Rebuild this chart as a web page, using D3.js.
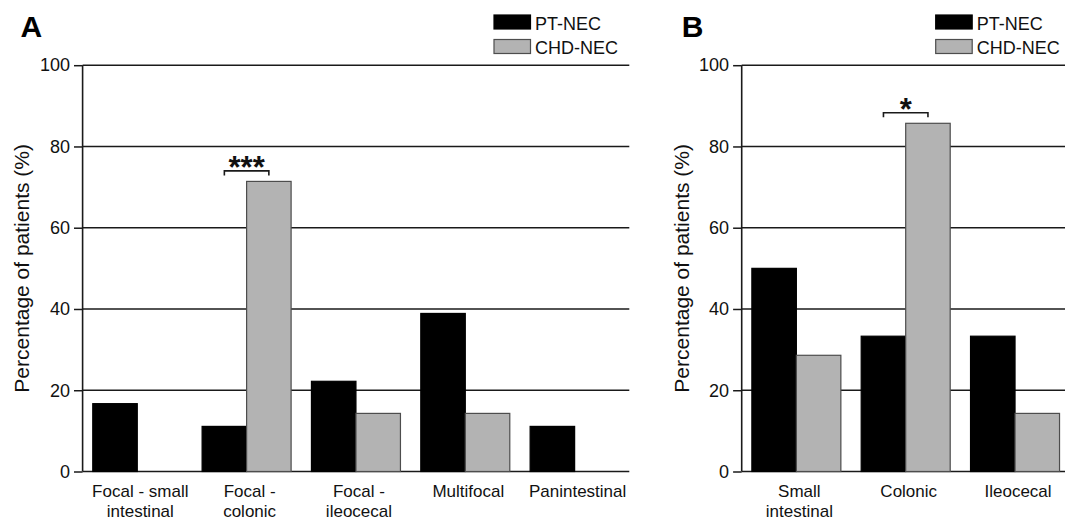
<!DOCTYPE html>
<html>
<head>
<meta charset="utf-8">
<script src="https://cdn.jsdelivr.net/npm/d3@7"></script>
<style>
  html, body { margin: 0; padding: 0; background: #fff; }
  svg { display: block; font-family: "Liberation Sans", Arial, sans-serif; }
</style>
</head>
<body>
<svg id="chart" width="1065" height="522"></svg>
<script>
// data
const series = ['PT-NEC', 'CHD-NEC'];
const yTicks = [0, 20, 40, 60, 80, 100];

const catsA = ['Focal - small\nintestinal', 'Focal -\ncolonic', 'Focal -\nileocecal', 'Multifocal', 'Panintestinal'];
const ptA   = [16.7, 11.1, 22.2, 38.9, 11.1];
const chdA  = [0, 71.4, 14.3, 14.3, 0];
const sigA  = { cat: 1, label: '***' };

const catsB = ['Small\nintestinal', 'Colonic', 'Ileocecal'];
const ptB   = [50, 33.3, 33.3];
const chdB  = [28.6, 85.7, 14.3];
const sigB  = { cat: 1, label: '*' };

const colors = { 'PT-NEC': '#000', 'CHD-NEC': '#b3b3b3' };
const strokes = { 'PT-NEC': '#000', 'CHD-NEC': '#4d4d4d' };

const svg = d3.select('#chart');
const y = d3.scaleLinear().domain([0, 100]).range([471.5, 65.2]);

function panel(cfg) {
  const g = svg.append('g');
  const n = cfg.cats.length;
  const x = d3.scaleBand().domain(d3.range(n)).range([cfg.x0, cfg.x1])
    .paddingInner(0.186).paddingOuter(0.093);
  const xs = d3.scaleBand().domain(series).range([0, x.bandwidth()]);

  // grid lines
  g.selectAll('.grid').data(yTicks).enter().append('line')
    .attr('x1', cfg.x0).attr('x2', cfg.x1)
    .attr('y1', d => y(d)).attr('y2', d => y(d))
    .attr('stroke', '#1a1a1a').attr('stroke-width', 1.5);

  // y axis
  const ax = g.append('g')
    .attr('transform', `translate(${cfg.x0},0)`)
    .call(d3.axisLeft(y).tickValues(yTicks).tickSize(8.6).tickPadding(4));
  ax.select('.domain').attr('stroke', '#1a1a1a').attr('stroke-width', 1.6)
    .attr('d', `M0,${y(0)}V${y(100)}`);
  ax.selectAll('.tick line').attr('stroke', '#1a1a1a').attr('stroke-width', 1.5);
  ax.selectAll('.tick text').attr('font-size', 18).attr('fill', '#111')
    .attr('font-family', '"Liberation Sans", Arial, sans-serif');

  // bars
  const rows = [];
  series.forEach((s, si) => cfg.vals[si].forEach((v, i) => rows.push({ s, i, v })));
  g.selectAll('.bar').data(rows.filter(d => d.v > 0)).enter().append('rect')
    .attr('x', d => x(d.i) + xs(d.s))
    .attr('width', xs.bandwidth())
    .attr('y', d => y(d.v))
    .attr('height', d => y(0) - y(d.v))
    .attr('fill', d => colors[d.s])
    .attr('stroke', d => strokes[d.s])
    .attr('stroke-width', 1.2);

  // category labels
  g.selectAll('.cat').data(cfg.cats).enter().append('text')
    .attr('text-anchor', 'middle')
    .attr('font-size', 17).attr('fill', '#111')
    .attr('transform', (d, i) => `translate(${x(i) + x.bandwidth() / 2 + 3},497)`)
    .selectAll('tspan').data(d => d.split('\n')).enter().append('tspan')
    .attr('x', 0).attr('y', (d, j) => j * 20).text(d => d);

  // y label
  g.append('text')
    .attr('transform', `translate(${cfg.labelX},${(y(0) + y(100)) / 2}) rotate(-90)`)
    .attr('text-anchor', 'middle').attr('font-size', 21).attr('fill', '#111')
    .text('Percentage of patients (%)');

  // panel letter
  g.append('text').attr('x', cfg.letterX).attr('y', 36.5)
    .attr('font-size', 30).attr('font-weight', 'bold').text(cfg.letter);

  // legend
  const lg = g.append('g').attr('transform', `translate(${cfg.legendX},15)`);
  series.forEach((s, i) => {
    lg.append('rect').attr('x', 0).attr('y', i * 24.5).attr('width', 36.5).attr('height', 14)
      .attr('fill', colors[s]).attr('stroke', strokes[s]).attr('stroke-width', 1.2);
    lg.append('text').attr('x', 41).attr('y', i * 24.5 + 14.5)
      .attr('font-size', 18).attr('fill', '#111').text(s);
  });

  // significance bracket
  const sg = cfg.sig;
  const xa = x(sg.cat) + xs('PT-NEC') + xs.bandwidth() / 2;
  const xb = x(sg.cat) + xs('CHD-NEC') + xs.bandwidth() / 2;
  const by = y(d3.max(series.map((s, si) => cfg.vals[si][sg.cat]))) - 10.5;
  g.append('path')
    .attr('d', `M${xa},${by + 4.5}V${by}H${xb}V${by + 4.5}`)
    .attr('fill', 'none').attr('stroke', '#1a1a1a').attr('stroke-width', 1.6);
  g.append('text').attr('x', (xa + xb) / 2).attr('y', by + 7)
    .attr('text-anchor', 'middle').attr('font-size', 31).attr('font-weight', 'bold')
    .attr('fill', '#111')
    .text(sg.label);
}

panel({ letter: 'A', cats: catsA, vals: [ptA, chdA], sig: sigA,
        x0: 82.6, x1: 629.3, letterX: 20.5, legendX: 494, labelX: 29 });
panel({ letter: 'B', cats: catsB, vals: [ptB, chdB], sig: sigB,
        x0: 741.7, x1: 1069.7, letterX: 681.7, legendX: 935.7, labelX: 689 });
</script>
</body>
</html>
